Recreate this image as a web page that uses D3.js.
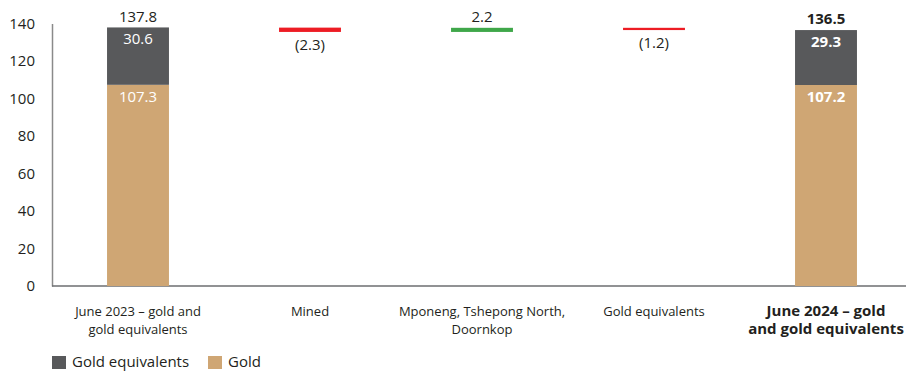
<!DOCTYPE html>
<html>
<head>
<meta charset="utf-8">
<script src="https://cdn.jsdelivr.net/npm/d3@7"></script>
<style>
  body { margin: 0; background: #fff; }
  svg text { font-family: "Open Sans", "Noto Sans", sans-serif; fill: #231f20; }
</style>
</head>
<body>
<div class="chart"></div>
<script>
// categories and values
var categories = ["June 2023 – gold and gold equivalents", "Mined", "Mponeng, Tshepong North, Doornkop", "Gold equivalents", "June 2024 – gold and gold equivalents"];
var catLines = [["June 2023 – gold and", "gold equivalents"], ["Mined"], ["Mponeng, Tshepong North,", "Doornkop"], ["Gold equivalents"], ["June 2024 – gold", "and gold equivalents"]];
var goldVals = [107.3, null, null, null, 107.2];
var equivVals = [30.6, null, null, null, 29.3];
var totals = [137.8, null, null, null, 136.5];
var changes = [null, -2.3, 2.2, -1.2, null];
var yTicks = [0, 20, 40, 60, 80, 100, 120, 140];

var width = 908, height = 373;
var colGold = "#cfa674", colEquiv = "#58595b", colUp = "#3fa74a", colDown = "#ed1c24";

var svg = d3.select(".chart").append("svg")
    .attr("width", width)
    .attr("height", height);

var x = d3.scaleBand().domain(categories).range([52, 912]).paddingInner(0.64).paddingOuter(0.32);
var y = d3.scaleLinear().domain([0, 140]).range([286, 23.5]);

// axes
var yAxis = svg.append("g")
    .attr("transform", "translate(52,0)")
    .call(d3.axisLeft(y).tickValues(yTicks).tickSize(0).tickPadding(17));
yAxis.select(".domain").attr("stroke", "#8a8a8a").attr("stroke-width", 1.5);
yAxis.selectAll("text").style("font-size", "15px").attr("fill", "#231f20");

svg.append("line")
    .attr("x1", 52).attr("x2", 906)
    .attr("y1", y(0)).attr("y2", y(0))
    .attr("stroke", "#6d6e71").attr("stroke-width", 1.5);

// stacked bars
var bars = categories.map(function(c, i) { return { c: c, g: goldVals[i], e: equivVals[i], t: totals[i], i: i }; })
    .filter(function(d) { return d.g != null; });

svg.selectAll("rect.gold").data(bars).enter().append("rect")
    .attr("class", "gold")
    .attr("x", function(d) { return x(d.c); })
    .attr("width", x.bandwidth())
    .attr("y", function(d) { return y(d.g); })
    .attr("height", function(d) { return y(0) - y(d.g); })
    .attr("fill", colGold);

svg.selectAll("rect.equiv").data(bars).enter().append("rect")
    .attr("class", "equiv")
    .attr("x", function(d) { return x(d.c); })
    .attr("width", x.bandwidth())
    .attr("y", function(d) { return y(d.g + d.e); })
    .attr("height", function(d) { return y(d.g) - y(d.g + d.e); })
    .attr("fill", colEquiv);

svg.selectAll("text.gl").data(bars).enter().append("text")
    .attr("x", function(d) { return x(d.c) + x.bandwidth() / 2; })
    .attr("y", function(d) { return y(d.g) + 17; })
    .attr("text-anchor", "middle")
    .style("font-size", "15px")
    .style("font-weight", function(d) { return d.i == 4 ? "bold" : "normal"; })
    .style("fill", "#fff")
    .text(function(d) { return d.g.toFixed(1); });

svg.selectAll("text.el").data(bars).enter().append("text")
    .attr("x", function(d) { return x(d.c) + x.bandwidth() / 2; })
    .attr("y", function(d) { return y(d.g + d.e) + 17; })
    .attr("text-anchor", "middle")
    .style("font-size", "15px")
    .style("font-weight", function(d) { return d.i == 4 ? "bold" : "normal"; })
    .style("fill", "#fff")
    .text(function(d) { return d.e.toFixed(1); });

svg.selectAll("text.tl").data(bars).enter().append("text")
    .attr("x", function(d) { return x(d.c) + x.bandwidth() / 2; })
    .attr("y", function(d) { return y(d.t) - 6; })
    .attr("text-anchor", "middle")
    .style("font-size", "15px")
    .style("font-weight", function(d) { return d.i == 4 ? "bold" : "normal"; })
    .text(function(d) { return d.t.toFixed(1); });

// waterfall steps
var steps = [];
var run = totals[0];
changes.forEach(function(v, i) {
  if (v == null) return;
  steps.push({ c: categories[i], from: run, to: run + v, v: v });
  run = run + v;
});

svg.selectAll("rect.step").data(steps).enter().append("rect")
    .attr("class", "step")
    .attr("x", function(d) { return x(d.c); })
    .attr("width", x.bandwidth())
    .attr("y", function(d) { return y(Math.max(d.from, d.to)); })
    .attr("height", function(d) { return Math.abs(y(d.from) - y(d.to)); })
    .attr("fill", function(d) { return d.v < 0 ? colDown : colUp; });

svg.selectAll("text.step").data(steps).enter().append("text")
    .attr("x", function(d) { return x(d.c) + x.bandwidth() / 2; })
    .attr("y", function(d) { return d.v < 0 ? y(d.to) + 18 : y(d.to) - 6; })
    .attr("text-anchor", "middle")
    .style("font-size", "15px")
    .text(function(d) { return d.v < 0 ? "(" + Math.abs(d.v).toFixed(1) + ")" : d.v.toFixed(1); });

// category labels
categories.forEach(function(c, i) {
  var t = svg.append("text")
      .attr("x", x(c) + x.bandwidth() / 2)
      .attr("y", 316)
      .attr("text-anchor", "middle")
      .style("font-size", i == 4 ? "15px" : "13px")
      .style("font-weight", i == 4 ? "bold" : "normal");
  catLines[i].forEach(function(l, j) {
    t.append("tspan").attr("x", x(c) + x.bandwidth() / 2).attr("dy", j == 0 ? 0 : 18).text(l);
  });
});

// legend
var legend = [["Gold equivalents", colEquiv, 52], ["Gold", colGold, 208]];
legend.forEach(function(l) {
  svg.append("rect").attr("x", l[2]).attr("y", 356).attr("width", 14).attr("height", 13).attr("fill", l[1]);
  svg.append("text").attr("x", l[2] + 20).attr("y", 367).style("font-size", "15px").text(l[0]);
});
</script>
</body>
</html>
